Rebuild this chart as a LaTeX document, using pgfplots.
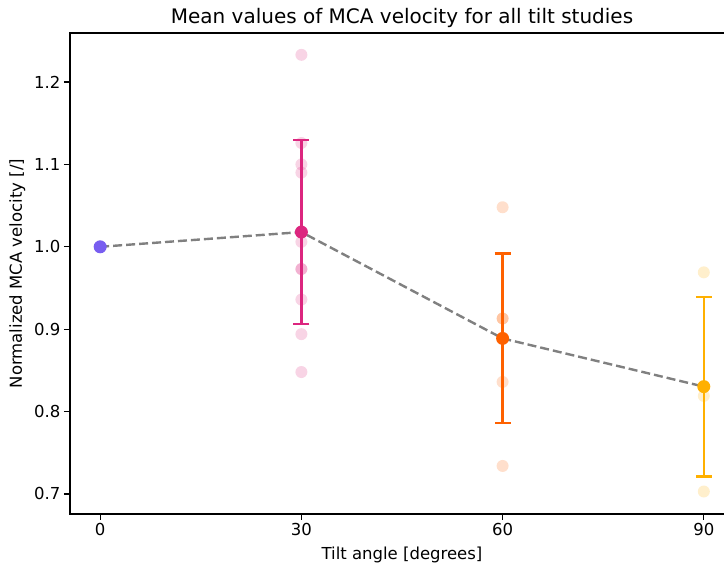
\documentclass[border=0pt]{standalone}
\usepackage{pgfplots}
\pgfplotsset{compat=1.18}
\usepackage{fontspec}
\setmainfont{DejaVu Sans}

\definecolor{cZero}{HTML}{785EF0}
\definecolor{cThirty}{HTML}{DC267F}
\definecolor{cSixty}{HTML}{FE6100}
\definecolor{cNinety}{HTML}{FFB000}

\pgfplotsset{
  study/.style={only marks, mark=*, color=#1, mark size=6pt,
    mark options={fill=#1, fill opacity=0.2, draw opacity=0}},
  meanpt/.style={only marks, mark=*, color=#1, mark size=6.5pt,
    mark options={fill=#1, draw opacity=0}},
  sdbar/.style={color=#1, line width=2.4pt, only marks, mark=none,
    error bars/.cd, y dir=both, y explicit,
    error bar style={line width=2.4pt, color=#1},
    error mark options={rotate=90, line width=2.2pt, mark size=8pt, color=#1}},
}

\begin{document}
\begin{tikzpicture}
\begin{axis}[
  at={(0,0)}, anchor=south west,
  scale only axis,
  width=664pt, height=481pt,
  xmin=-4.5, xmax=94.5,
  ymin=0.6757, ymax=1.2595,
  xtick={0,30,60,90},
  ytick={0.7,0.8,0.9,1.0,1.1,1.2},
  yticklabel style={/pgf/number format/.cd, fixed, fixed zerofill, precision=1},
  /pgf/number format/assume math mode=true,
  tick align=outside,
  xtick pos=bottom, ytick pos=left,
  major tick length=6pt,
  tick style={black, line width=1.2pt},
  axis line style={black, line width=1.2pt},
  ticklabel style={font=\fontsize{16.5}{19}\selectfont},
  label style={font=\fontsize{16.5}{19}\selectfont},
  title style={font=\fontsize{20}{24}\selectfont},
  title={Mean values of MCA velocity for all tilt studies},
  title style={at={(axis description cs:0.5,1.007)}, anchor=base},
  xlabel={Tilt angle [degrees]},
  xlabel style={at={(axis description cs:0.5,-0.0946)}, anchor=base},
  ylabel={Normalized MCA velocity [/]},
  ylabel style={at={(axis description cs:-0.0723,0.5)}, anchor=base},
  clip=false,
]
% individual study values
\addplot[study=cThirty]
  coordinates {(30,1.233) (30,1.126) (30,1.100) (30,1.090) (30,1.006)
               (30,0.973) (30,0.973) (30,0.936) (30,0.894) (30,0.848)};
\addplot[study=cSixty]
  coordinates {(60,1.048) (60,0.913) (60,0.913) (60,0.836) (60,0.734)};
\addplot[study=cNinety]
  coordinates {(90,0.969) (90,0.819) (90,0.703)};

% standard deviation bars
\addplot[sdbar=cThirty] coordinates {(30,1.0179) +- (0,0.112)};
\addplot[sdbar=cSixty]  coordinates {(60,0.8888) +- (0,0.103)};
\addplot[sdbar=cNinety] coordinates {(90,0.8303) +- (0,0.109)};

% trend of the means
\addplot[gray, line width=2.4pt, dash pattern=on 9pt off 4pt, mark=none]
  coordinates {(0,1.0) (30,1.0179) (60,0.8888) (90,0.8303)};

% mean values
\addplot[meanpt=cZero]   coordinates {(0,1.0)};
\addplot[meanpt=cThirty] coordinates {(30,1.0179)};
\addplot[meanpt=cSixty]  coordinates {(60,0.8888)};
\addplot[meanpt=cNinety] coordinates {(90,0.8303)};
\end{axis}
\pgfresetboundingbox
\useasboundingbox (-70pt,-54pt) rectangle (654pt,514pt);
\end{tikzpicture}
\end{document}
